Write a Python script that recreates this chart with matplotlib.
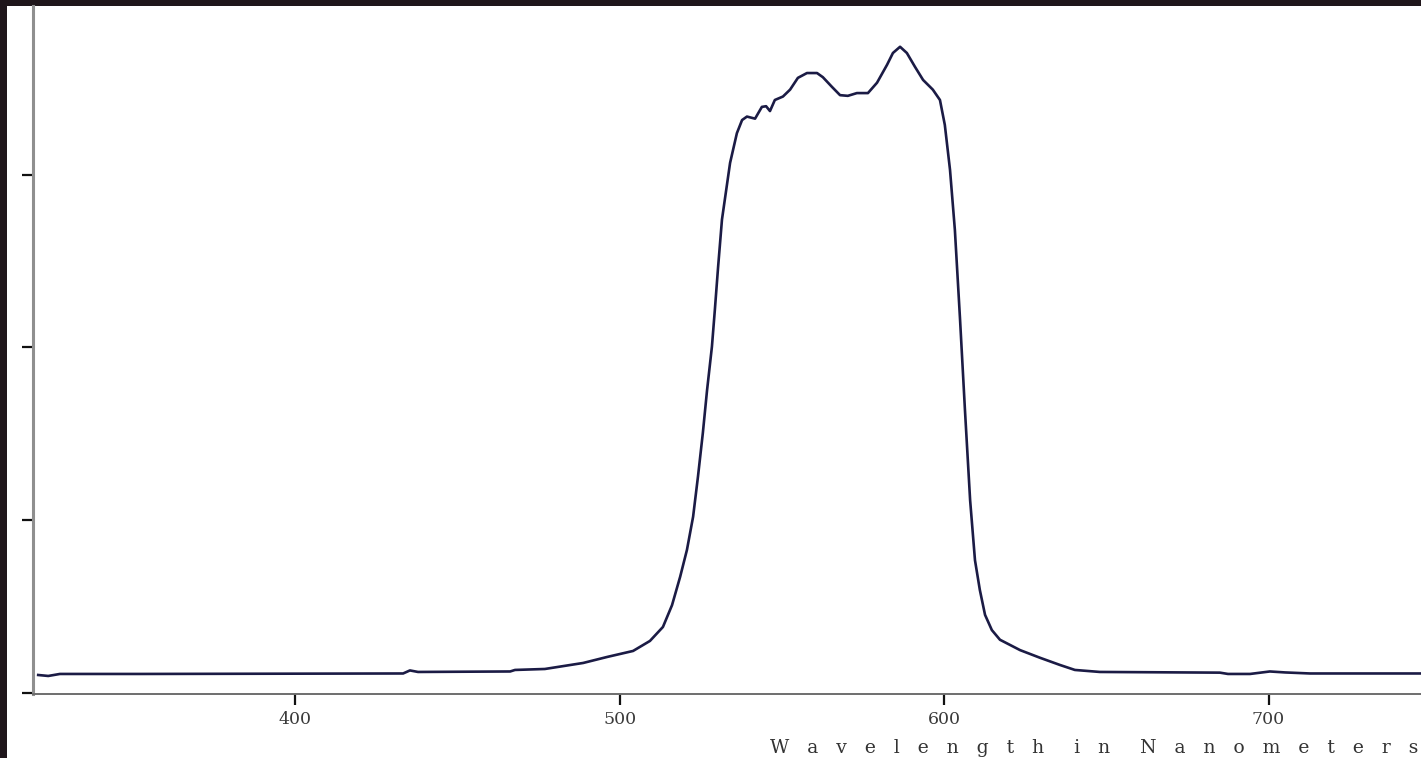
import numpy as np
import matplotlib
matplotlib.use("Agg")
import matplotlib.pyplot as plt
from matplotlib.patches import Rectangle

# transmission spectrum (wavelength nm, % of full scale)
wavelength = [320.7, 323.8, 327.4, 352.1, 433.2, 435.3, 437.8, 466.2, 467.7,
              476.9, 488.7, 496.1, 504.1, 509.3, 513.3, 516.1, 518.6, 520.7,
              522.6, 524.1, 525.6, 526.9, 528.4, 529.3, 530.3, 531.5, 534.0,
              536.1, 537.7, 539.2, 541.7, 543.8, 545.1, 546.3, 547.8, 550.3,
              552.5, 554.9, 557.7, 560.8, 562.6, 565.4, 567.9, 570.3, 573.1,
              576.5, 579.3, 582.4, 584.2, 586.4, 588.5, 591.0, 593.5, 596.5,
              598.7, 600.2, 601.8, 603.3, 604.9, 606.4, 608.0, 609.5, 611.0,
              612.6, 614.7, 617.2, 623.4, 629.5, 635.7, 640.3, 648.0, 685.0,
              687.5, 694.3, 700.4, 705.1, 712.8, 747.0]
transmission = [2.60, 2.46, 2.75, 2.75, 2.82, 3.26, 3.04, 3.11, 3.33,
                3.47, 4.34, 5.21, 6.08, 7.53, 9.55, 12.7, 16.8, 20.7,
                25.5, 31.3, 37.6, 43.8, 50.1, 55.4, 61.6, 68.5, 76.7,
                81.0, 82.9, 83.4, 83.1, 84.8, 84.9, 84.2, 85.8, 86.3,
                87.3, 89.0, 89.7, 89.7, 89.1, 87.7, 86.5, 86.4, 86.8,
                86.8, 88.3, 90.9, 92.6, 93.5, 92.6, 90.6, 88.7, 87.3,
                85.8, 82.2, 75.7, 67.0, 54.0, 41.0, 27.9, 19.2, 14.9,
                11.3, 9.1, 7.7, 6.2, 5.1, 4.05, 3.33, 3.04, 2.94,
                2.75, 2.75, 3.11, 2.97, 2.82, 2.82]

x_ticks = [400, 500, 600, 700]
y_ticks = [0, 25, 50, 75]
x_label = "Wavelength in Nanometers"

W, H = 1421, 758
fig = plt.figure(figsize=(W / 100, H / 100), dpi=100, facecolor="#1f161b")
# white page inside the dark frame
fig.patches.append(Rectangle((7 / W, 0), 1 - 7 / W, (H - 6) / H,
                             transform=fig.transFigure, facecolor="white",
                             edgecolor="none", zorder=-10))

ax = fig.add_axes([33 / W, (H - 694) / H, 1 - 33 / W, (694 - 6) / H])
ax.set_zorder(5)
ax.set_facecolor("white")
ax.plot(wavelength, transmission, color="#1b1b45", lw=1.9)

ax.set_xlim(319.1, 747.0)
ax.set_ylim(-0.15, 99.4)
ax.set_xticks(x_ticks)
ax.set_yticks(y_ticks)
ax.set_yticklabels([])

for s in ("top", "right"):
    ax.spines[s].set_visible(False)
ax.spines["left"].set_color("#8f8f8f")
ax.spines["left"].set_linewidth(2.2)
ax.spines["bottom"].set_color("#6e6e6e")
ax.spines["bottom"].set_linewidth(1.4)

ax.tick_params(axis="x", direction="out", length=8, width=1.6, color="#111111",
               pad=4, labelsize=12.5, labelcolor="#3a3a3a")
ax.tick_params(axis="y", direction="out", length=8, width=1.6, color="#111111")
for lab in ax.get_xticklabels():
    lab.set_family("DejaVu Serif")

# the original axis title is letter-spaced
spaced = "     ".join("   ".join(word) for word in x_label.split())
fig.text(1418 / W, (H - 748) / H, spaced,
         ha="right", va="center", fontsize=13.5, color="#333333",
         family="DejaVu Serif")

fig.savefig("out.png", dpi=100, facecolor=fig.get_facecolor())
